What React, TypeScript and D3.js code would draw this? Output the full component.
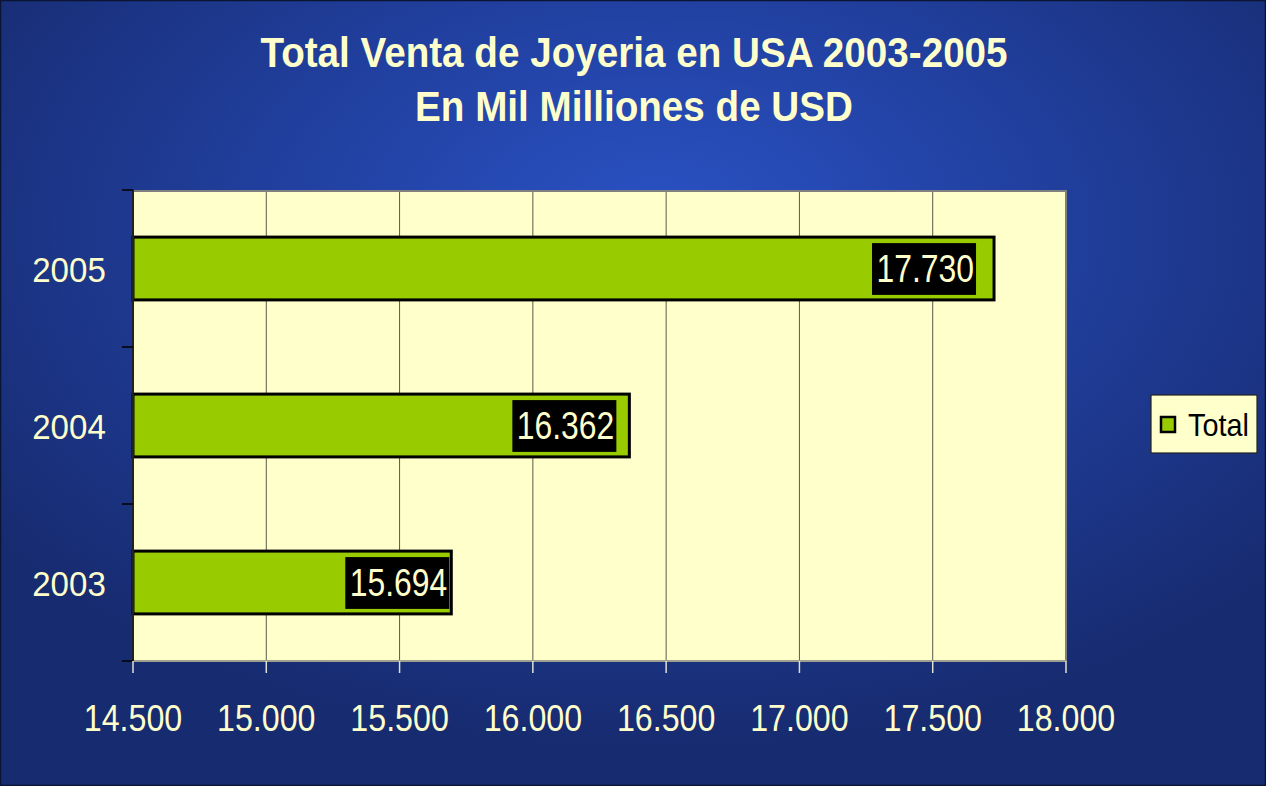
import React from "react";
import * as d3 from "d3";

const categories = ["2005", "2004", "2003"];
const values = [17730, 16362, 15694];
const valueLabels = ["17.730", "16.362", "15.694"];
const xTicks = [14500, 15000, 15500, 16000, 16500, 17000, 17500, 18000];
const xTickLabels = ["14.500", "15.000", "15.500", "16.000", "16.500", "17.000", "17.500", "18.000"];
const titleLines = ["Total Venta de Joyeria en USA 2003-2005", "En Mil Milliones de USD"];
const legendLabel = "Total";

const W = 1266, H = 786;
const plot = { left: 133, right: 1066, top: 190, bottom: 661 };
const labelInset = [18, 13, 2];
const cream = "#ffffcc";
const green = "#99cc00";
const font = "'Liberation Sans', Arial, sans-serif";

function SText({ x, y, sx, anchor = "middle", children, ...rest }: any) {
  return (
    <text transform={`translate(${x},${y}) scale(${sx},1)`} textAnchor={anchor} fontFamily={font} {...rest}>
      {children}
    </text>
  );
}

export default function App() {
  const x = d3.scaleLinear().domain([14500, 18000]).range([plot.left, plot.right]);
  const y = d3.scaleBand().domain(categories).range([plot.top, plot.bottom]).paddingInner(0.6).paddingOuter(0.3);
  const yOuter = d3.scaleBand().domain(categories).range([plot.top, plot.bottom]);

  return (
    <svg width={W} height={H} style={{ position: "absolute", left: 0, top: 0 }}>
      <defs>
        <radialGradient id="bg" cx="0.52" cy="0.3" r="0.65" fx="0.52" fy="0.28">
          <stop offset="0" stopColor="#2a52c4" />
          <stop offset="0.45" stopColor="#2140a0" />
          <stop offset="1" stopColor="#172b70" />
        </radialGradient>
      </defs>
      <rect x={0} y={0} width={W} height={H} fill="url(#bg)" />
      <rect x={0.5} y={0.5} width={W - 1} height={H - 1} fill="none" stroke="#0b1433" strokeWidth={1.5} />

      {titleLines.map((t, i) => (
        <SText key={i} x={634} y={67 + i * 54} sx={0.92} fill={cream} fontWeight="bold" fontSize={42}>{t}</SText>
      ))}

      <rect x={plot.left} y={plot.top} width={plot.right - plot.left} height={plot.bottom - plot.top} fill={cream} />
      {xTicks.slice(1, -1).map((t) => (
        <line key={t} x1={x(t)} x2={x(t)} y1={plot.top} y2={plot.bottom} stroke="#5a5a4a" strokeWidth={1} />
      ))}
      <line x1={plot.left} x2={plot.right} y1={plot.top + 1} y2={plot.top + 1} stroke="#808080" strokeWidth={2} />
      <line x1={plot.right} x2={plot.right} y1={plot.top} y2={plot.bottom} stroke="#808080" strokeWidth={2} />
      <line x1={plot.left} x2={plot.right} y1={plot.bottom} y2={plot.bottom} stroke="#a0a090" strokeWidth={2} />

      {categories.map((c, i) => {
        const y0 = y(c)!;
        const bw = y.bandwidth();
        const xe = x(values[i]);
        const bx = xe - labelInset[i];
        return (
          <g key={c}>
            <rect x={plot.left} y={y0} width={xe - plot.left} height={bw} fill={green} stroke="#000" strokeWidth={3} />
            <rect x={bx - 104} y={y0 + 6} width={104} height={bw - 11} fill="#000" />
            <SText x={bx - 2} y={y0 + bw / 2 + 13} sx={0.84} anchor="end" fill={cream} fontSize={38}>{valueLabels[i]}</SText>
            <SText x={69} y={yOuter(c)! + yOuter.bandwidth() / 2 + 13} sx={0.92} fill={cream} fontSize={36}>{c}</SText>
          </g>
        );
      })}

      <line x1={plot.left} x2={plot.left} y1={plot.top} y2={plot.bottom} stroke="#222" strokeWidth={2} />
      {[...categories.map((c) => yOuter(c)!), plot.bottom].map((yy, i) => (
        <line key={i} x1={plot.left - 11} x2={plot.left} y1={yy} y2={yy} stroke="#000" strokeWidth={1.5} />
      ))}
      {xTicks.map((t, i) => (
        <g key={t}>
          <line x1={x(t)} x2={x(t)} y1={plot.bottom} y2={plot.bottom + 12} stroke="#e0e0d0" strokeWidth={1.5} />
          <SText x={x(t)} y={731} sx={0.87} fill={cream} fontSize={37}>{xTickLabels[i]}</SText>
        </g>
      ))}

      <rect x={1151} y={395} width={106} height={58} fill={cream} stroke="#222" strokeWidth={1.2} />
      <rect x={1161} y={417} width={14} height={15} fill={green} stroke="#000" strokeWidth={2.5} />
      <SText x={1188} y={436} sx={0.9} anchor="start" fill="#000" fontSize={32}>{legendLabel}</SText>
    </svg>
  );
}
